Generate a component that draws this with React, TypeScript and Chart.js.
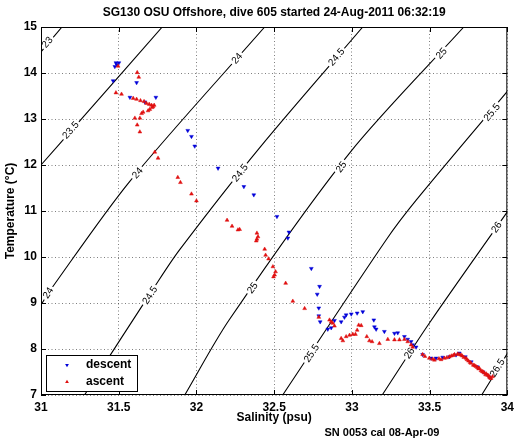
import React, { useEffect, useRef } from 'react';
import { Chart, registerables } from 'chart.js';

Chart.register(...registerables);

const FONT = "'Liberation Sans', Arial, Helvetica, sans-serif";

// ---- data ----
const titleText = 'SG130 OSU Offshore, dive 605 started 24-Aug-2011 06:32:19';
const noteText = 'SN 0053 cal 08-Apr-09';
const xTitle = 'Salinity (psu)';
const yTitle = 'Temperature (°C)';

const salinityTicks = [31, 31.5, 32, 32.5, 33, 33.5, 34];
const temperatureTicks = [7, 8, 9, 10, 11, 12, 13, 14, 15];

const descentSalinity = [31.482, 31.501, 31.475, 31.488, 31.464, 31.615, 31.572, 31.668, 31.739, 31.944, 31.968, 31.989, 32.139, 32.305, 32.369, 32.518, 32.595, 32.588, 32.739, 32.792, 32.777, 32.787, 32.787, 32.796, 32.845, 32.867, 32.888, 32.931, 32.952, 32.963, 32.996, 33.034, 33.07, 33.141, 33.145, 33.156, 33.209, 33.274, 33.295, 33.338, 33.359, 33.381, 33.391, 33.413, 33.455, 33.509, 33.541, 33.584, 33.627, 33.67, 33.691, 33.73, 33.768, 33.807, 33.845, 33.884];
const descentTemperature = [14.22, 14.22, 14.14, 14.18, 13.83, 13.79, 13.47, 13.37, 13.47, 12.75, 12.62, 12.41, 11.93, 11.53, 11.35, 10.88, 10.54, 10.41, 9.75, 9.36, 9.19, 8.89, 8.72, 8.59, 8.43, 8.46, 8.62, 8.59, 8.69, 8.74, 8.76, 8.78, 8.81, 8.63, 8.48, 8.43, 8.38, 8.34, 8.35, 8.27, 8.21, 8.16, 8.09, 8.04, 7.88, 7.80, 7.80, 7.82, 7.83, 7.87, 7.91, 7.83, 7.72, 7.61, 7.50, 7.39];

const ascentSalinity = [31.496, 31.619, 31.629, 31.482, 31.518, 31.593, 31.615, 31.64, 31.663, 31.679, 31.696, 31.711, 31.728, 31.721, 31.715, 31.7, 31.689, 31.657, 31.647, 31.636, 31.604, 31.619, 31.636, 31.732, 31.753, 31.88, 31.897, 31.968, 32.0, 32.197, 32.229, 32.267, 32.278, 32.389, 32.396, 32.389, 32.385, 32.439, 32.445, 32.464, 32.492, 32.509, 32.503, 32.496, 32.574, 32.62, 32.696, 32.787, 32.856, 32.867, 32.877, 32.888, 32.931, 32.942, 32.963, 32.985, 33.006, 33.023, 33.034, 33.044, 33.06, 33.096, 33.113, 33.13, 33.177, 33.231, 33.274, 33.306, 33.338, 33.359, 33.381, 33.391, 33.455, 33.498, 33.531, 33.574, 33.595, 33.627, 33.652, 33.68, 33.702, 33.71, 33.734, 33.75, 33.766, 33.781, 33.798, 33.807, 33.82, 33.83, 33.839, 33.852, 33.865, 33.873, 33.884, 33.895, 33.905, 33.47, 33.52, 33.56, 33.61, 33.64, 33.66, 33.69, 33.72, 33.74, 33.76, 33.79, 33.815, 33.845, 33.86, 33.88, 33.89];
const ascentTemperature = [14.15, 14.01, 13.91, 13.57, 13.54, 13.45, 13.43, 13.40, 13.38, 13.34, 13.32, 13.30, 13.30, 13.27, 13.25, 13.21, 13.18, 13.15, 13.12, 13.02, 13.02, 12.87, 12.72, 12.28, 12.15, 11.73, 11.62, 11.37, 11.22, 10.80, 10.67, 10.59, 10.60, 10.52, 10.44, 10.39, 10.35, 10.17, 10.04, 9.96, 9.79, 9.68, 9.61, 9.57, 9.43, 9.04, 8.88, 8.69, 8.63, 8.59, 8.56, 8.50, 8.23, 8.18, 8.27, 8.30, 8.32, 8.32, 8.41, 8.52, 8.51, 8.27, 8.18, 8.16, 8.12, 8.21, 8.20, 8.20, 8.21, 8.16, 8.09, 8.04, 7.88, 7.80, 7.76, 7.77, 7.80, 7.83, 7.86, 7.89, 7.87, 7.85, 7.80, 7.74, 7.69, 7.65, 7.62, 7.60, 7.58, 7.53, 7.51, 7.48, 7.46, 7.43, 7.39, 7.36, 7.40, 7.84, 7.78, 7.79, 7.81, 7.85, 7.88, 7.88, 7.82, 7.77, 7.71, 7.64, 7.57, 7.50, 7.44, 7.42, 7.37];

// sigma-t contour lines
const contourLevels = ['23', '23.5', '24', '24.5', '25', '25.5', '26', '26.5'];
const contourSalinity = [
  [31, 31.135],
  [31, 31.265, 31.78],
  [31, 31.06, 31.57, 32.439],
  [31.28, 31.73, 31.89, 32.41, 33.07],
  [31.925, 32.21, 32.985, 33.72],
  [32.555, 33.22, 33.415, 34],
  [33.195, 33.5, 34],
  [33.835, 34],
];
const contourTemperature = [
  [14.46, 15],
  [12.0, 13.02, 15],
  [8.96, 9.28, 11.64, 15],
  [7, 9.35, 10.15, 12.39, 15],
  [7, 8.63, 12.26, 15],
  [7, 10.37, 11.24, 13.6],
  [7, 8.57, 10.98],
  [7, 7.9],
];

const labelLevels = ['23', '23.5', '24', '24', '24', '24.5', '24.5', '24.5', '25', '25', '25', '25.5', '25.5', '26', '26', '26.5'];
const labelSalinity = [31.04, 31.19, 32.26, 31.62, 31.045, 32.9, 32.28, 31.70, 33.575, 32.93, 32.36, 33.9, 32.74, 33.93, 33.37, 33.935];
const labelTemperature = [14.67, 12.76, 14.32, 11.83, 9.22, 14.35, 11.83, 9.17, 14.43, 11.96, 9.33, 13.15, 7.91, 10.65, 7.91, 7.59];

const seriesNames = ['descent', 'ascent'];
const seriesColors = ['#0000d8', '#e01010'];

// ---- helpers ----
function tri(ctx: CanvasRenderingContext2D, x: number, y: number, r: number, down: boolean) {
  let rad = down ? Math.PI : 0;
  ctx.beginPath();
  for (let i = 0; i < 3; i++) {
    const px = x + Math.sin(rad) * r;
    const py = y - Math.cos(rad) * r;
    if (i === 0) ctx.moveTo(px, py); else ctx.lineTo(px, py);
    rad += (2 * Math.PI) / 3;
  }
  ctx.closePath();
  ctx.fill();
}

const labelPlugin = {
  id: 'contourLabels',
  beforeDatasetDraw(chart: any, args: any) {
    if (args.index !== 0) return; // descent dataset is drawn right after all contours
    const { ctx, chartArea: a, scales } = chart;
    const x = scales.x, y = scales.y;
    ctx.save();
    ctx.beginPath();
    ctx.rect(a.left, a.top, a.right - a.left, a.bottom - a.top);
    ctx.clip();
    ctx.font = `10px ${FONT}`;
    ctx.textAlign = 'center';
    ctx.textBaseline = 'middle';
    labelLevels.forEach((lev, i) => {
      const li = contourLevels.indexOf(lev);
      const S = contourSalinity[li];
      const T = contourTemperature[li];
      let k = 0;
      for (k = 0; k < T.length - 2; k++) if (labelTemperature[i] <= T[k + 1]) break;
      const x0 = x.getPixelForValue(S[k]), y0 = y.getPixelForValue(T[k]);
      const x1 = x.getPixelForValue(S[k + 1]), y1 = y.getPixelForValue(T[k + 1]);
      const ang = Math.atan2(y1 - y0, x1 - x0);
      const px = x.getPixelForValue(labelSalinity[i]);
      const py = y.getPixelForValue(labelTemperature[i]);
      ctx.save();
      ctx.translate(px, py);
      ctx.rotate(ang);
      const w = ctx.measureText(lev).width;
      ctx.fillStyle = '#ffffff';
      ctx.fillRect(-w / 2 - 2, -4.5, w + 4, 9);
      ctx.fillStyle = '#000000';
      ctx.fillText(lev, 0, 0.5);
      ctx.restore();
    });
    ctx.restore();
  },
  afterDatasetsDraw(chart: any) {
    const { ctx, chartArea: a, scales } = chart;
    const x = scales.x, y = scales.y;
    ctx.save();
    // frame
    ctx.strokeStyle = '#000';
    ctx.lineWidth = 1;
    ctx.strokeRect(a.left + 0.5, a.top + 0.5, a.right - a.left - 1, a.bottom - a.top - 1);
    // inward ticks
    ctx.beginPath();
    salinityTicks.forEach((v) => {
      const px = Math.round(x.getPixelForValue(v)) + 0.5;
      ctx.moveTo(px, a.bottom); ctx.lineTo(px, a.bottom - 5);
      ctx.moveTo(px, a.top); ctx.lineTo(px, a.top + 5);
    });
    temperatureTicks.forEach((v) => {
      const py = Math.round(y.getPixelForValue(v)) + 0.5;
      ctx.moveTo(a.left, py); ctx.lineTo(a.left + 5, py);
      ctx.moveTo(a.right, py); ctx.lineTo(a.right - 5, py);
    });
    ctx.stroke();
    // legend
    const lx = a.left + 5, ly = a.bottom - 40, lw = 91, lh = 36;
    ctx.fillStyle = '#fff';
    ctx.fillRect(lx, ly, lw, lh);
    ctx.strokeStyle = '#000';
    ctx.strokeRect(lx + 0.5, ly + 0.5, lw, lh);
    ctx.font = `bold 12px ${FONT}`;
    ctx.textBaseline = 'middle';
    ctx.textAlign = 'left';
    seriesNames.forEach((name, i) => {
      const cy = ly + 10 + i * 17;
      ctx.fillStyle = seriesColors[i];
      tri(ctx, lx + 21, cy, 2.2, i === 0);
      ctx.fillStyle = '#000';
      ctx.fillText(name, lx + 40, cy);
    });
    // title & note
    ctx.font = `bold 12px ${FONT}`;
    ctx.textAlign = 'center';
    ctx.fillStyle = '#000';
    ctx.fillText(titleText, (a.left + a.right) / 2, 13);
    ctx.font = `bold 11px ${FONT}`;
    ctx.fillText(noteText, 382, 433);
    ctx.restore();
  },
};

export default function App() {
  const ref = useRef<HTMLCanvasElement | null>(null);
  useEffect(() => {
    if (!ref.current) return;
    const tickFont = { family: FONT, size: 12, weight: 'bold' as const };
    const datasets: any[] = [
      {
        label: seriesNames[0],
        data: descentSalinity.map((s, i) => ({ x: s, y: descentTemperature[i] })),
        pointStyle: 'triangle',
        rotation: 180,
        pointRadius: 2.2,
        borderWidth: 0.5,
        backgroundColor: seriesColors[0],
        borderColor: seriesColors[0],
        showLine: false,
        order: 2,
      },
      {
        label: seriesNames[1],
        data: ascentSalinity.map((s, i) => ({ x: s, y: ascentTemperature[i] })),
        pointStyle: 'triangle',
        pointRadius: 2.2,
        borderWidth: 0.5,
        backgroundColor: seriesColors[1],
        borderColor: seriesColors[1],
        showLine: false,
        order: 1,
      },
      ...contourLevels.map((lev, li) => ({
        label: 'sigma ' + lev,
        data: contourSalinity[li].map((s, i) => ({ x: s, y: contourTemperature[li][i] })),
        showLine: true,
        borderColor: '#000',
        borderWidth: 1.1,
        pointRadius: 0,
        tension: 0.3,
        order: 3,
      })),
    ];
    const chart = new Chart(ref.current, {
      type: 'scatter',
      data: { datasets },
      options: {
        responsive: false,
        animation: false,
        events: [],
        layout: { padding: { top: 27, right: 11, bottom: 0, left: 0 } },
        plugins: { legend: { display: false }, tooltip: { enabled: false }, title: { display: false } },
        scales: {
          x: {
            type: 'linear',
            min: 31,
            max: 34,
            afterBuildTicks: (s: any) => { s.ticks = salinityTicks.map((v) => ({ value: v })); },
            afterFit: (s: any) => { s.height = 47; },
            grid: { color: 'rgba(0,0,0,0.5)', lineWidth: 1, drawTicks: false },
            border: { display: false, dash: [1, 2.5] },
            ticks: { font: tickFont, color: '#000', padding: 5, maxRotation: 0, autoSkip: false, callback: (v: any) => String(v) },
            title: { display: true, text: xTitle, font: tickFont, color: '#000', padding: { top: 0, bottom: 17 } },
          },
          y: {
            type: 'linear',
            min: 7,
            max: 15,
            afterBuildTicks: (s: any) => { s.ticks = temperatureTicks.map((v) => ({ value: v })); },
            afterFit: (s: any) => { s.width = 41; },
            grid: { color: 'rgba(0,0,0,0.5)', lineWidth: 1, drawTicks: false },
            border: { display: false, dash: [1, 2.5] },
            ticks: { font: tickFont, color: '#000', padding: 4, autoSkip: false, callback: (v: any) => String(v) },
            title: { display: true, text: yTitle, font: tickFont, color: '#000', padding: { top: 3, bottom: 0 } },
          },
        },
      } as any,
      plugins: [labelPlugin],
    });
    return () => chart.destroy();
  }, []);
  return (
    <div style={{ position: 'absolute', left: 0, top: 0, width: 519, height: 442, background: '#fff' }}>
      <canvas ref={ref} width={519} height={442} style={{ display: 'block' }} />
    </div>
  );
}
